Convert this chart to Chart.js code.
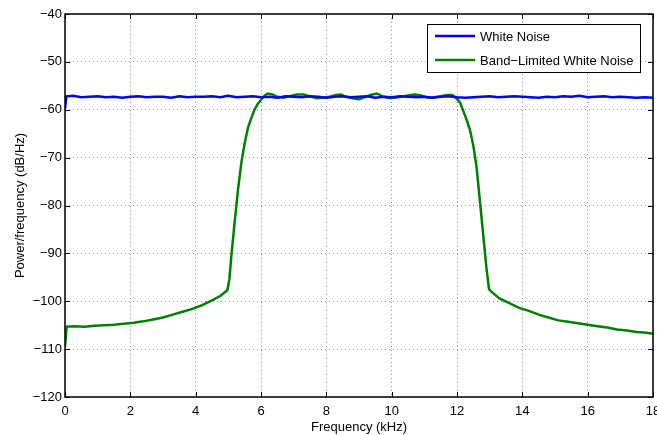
<!DOCTYPE html>
<html>
<head>
<meta charset="utf-8">
<script src="https://cdn.jsdelivr.net/npm/chart.js@4/dist/chart.umd.min.js"></script>
<style>
html,body{margin:0;padding:0;background:#fff;}
#wrap{width:657px;height:435px;position:relative;}
</style>
</head>
<body>
<div id="wrap"><canvas id="c" width="657" height="435"></canvas></div>
<script>
// ---- Data ----
const seriesNames = ["White Noise", "Band\u2212Limited White Noise"];
const xTicks = [0, 2, 4, 6, 8, 10, 12, 14, 16, 18];
const yTicks = [-120, -110, -100, -90, -80, -70, -60, -50, -40];

// White noise
const whiteFreq = [0,0.04,0.25,0.5,0.75,1,1.25,1.5,1.75,2,2.25,2.5,2.75,3,3.25,3.5,3.75,4,4.25,4.5,4.75,5,5.25,5.5,5.75,6,6.25,6.5,6.75,7,7.25,7.5,7.75,8,8.25,8.5,8.75,9,9.25,9.5,9.75,10,10.25,10.5,10.75,11,11.25,11.5,11.75,12,12.25,12.5,12.75,13,13.25,13.5,13.75,14,14.25,14.5,14.75,15,15.25,15.5,15.75,16,16.25,16.5,16.75,17,17.25,17.5,17.75,18];
const whiteVals = [-59.8,-57.2,-57.1,-57.4,-57.3,-57.2,-57.4,-57.3,-57.5,-57.3,-57.2,-57.4,-57.3,-57.3,-57.5,-57.2,-57.4,-57.3,-57.3,-57.2,-57.4,-57.1,-57.4,-57.3,-57.2,-57.4,-57.3,-57.5,-57.2,-57.3,-57.4,-57.2,-57.3,-57.5,-57.3,-57.2,-57.4,-57.3,-57.2,-57.5,-57.3,-57.4,-57.2,-57.3,-57.4,-57.3,-57.5,-57.3,-57.2,-57.4,-57.5,-57.4,-57.3,-57.2,-57.4,-57.3,-57.2,-57.3,-57.4,-57.5,-57.3,-57.4,-57.2,-57.3,-57.1,-57.4,-57.3,-57.2,-57.4,-57.3,-57.4,-57.5,-57.4,-57.5];

// Band-limited white noise
const bandFreq = [0,0.05,0.3,0.6,0.9,1.2,1.5,1.8,2.1,2.4,2.7,3.0,3.3,3.6,3.9,4.2,4.5,4.75,4.97,5.03,5.1,5.2,5.3,5.4,5.5,5.6,5.7,5.8,5.9,6.0,6.1,6.2,6.35,6.5,6.7,6.9,7.1,7.3,7.5,7.7,7.9,8.1,8.3,8.45,8.6,8.8,9.0,9.2,9.35,9.55,9.75,9.95,10.1,10.3,10.5,10.7,10.9,11.1,11.3,11.5,11.7,11.85,12.0,12.1,12.2,12.3,12.4,12.5,12.6,12.7,12.8,12.9,12.98,13.05,13.3,13.6,13.9,14.2,14.5,14.8,15.1,15.4,15.7,16.0,16.3,16.6,16.9,17.2,17.5,17.8,18.0];
const bandVals = [-109.5,-105.3,-105.2,-105.3,-105.1,-105.0,-104.9,-104.7,-104.5,-104.2,-103.8,-103.4,-102.8,-102.2,-101.6,-100.8,-99.8,-98.9,-97.7,-95.5,-90.0,-83.0,-76.5,-71.0,-67.0,-63.8,-61.8,-60.0,-58.8,-57.9,-57.1,-56.6,-56.8,-57.3,-57.5,-57.1,-56.8,-56.8,-57.2,-57.6,-57.5,-57.3,-56.9,-56.8,-57.3,-57.6,-57.8,-57.3,-56.9,-56.6,-57.3,-57.6,-57.5,-57.3,-57.0,-56.8,-57.0,-57.5,-57.4,-57.2,-56.9,-56.9,-57.7,-58.6,-60.4,-62.2,-64.3,-67.5,-72.0,-79.0,-86.0,-93.0,-97.5,-98.0,-99.4,-100.4,-101.4,-102.0,-102.8,-103.4,-104.0,-104.3,-104.6,-104.9,-105.2,-105.5,-105.9,-106.1,-106.4,-106.6,-106.8];

const seriesColors = ["#0000ff", "#008000"];

const toPts = (xs, ys) => xs.map((x, i) => ({x: x, y: ys[i]}));
const minus = v => String(v).replace('-', '\u2212');
const FONT = "'Liberation Sans', Arial, Helvetica, sans-serif";

// Frame, inward tick marks and legend (MATLAB style)
const framePlugin = {
  id: 'frame',
  afterDraw(chart) {
    const {ctx, chartArea: a, scales} = chart;
    const xs = scales.x, ys = scales.y;
    ctx.save();
    ctx.strokeStyle = '#000';
    ctx.lineWidth = 1;
    const tl = 5;
    ctx.beginPath();
    xTicks.forEach(t => {
      const px = Math.round(xs.getPixelForValue(t)) + 0.5;
      ctx.moveTo(px, a.bottom); ctx.lineTo(px, a.bottom - tl);
      ctx.moveTo(px, a.top); ctx.lineTo(px, a.top + tl);
    });
    yTicks.forEach(t => {
      const py = Math.round(ys.getPixelForValue(t)) + 0.5;
      ctx.moveTo(a.left, py); ctx.lineTo(a.left + tl, py);
      ctx.moveTo(a.right, py); ctx.lineTo(a.right - tl, py);
    });
    ctx.stroke();
    ctx.lineWidth = 1.5;
    ctx.strokeRect(a.left, a.top, a.right - a.left, a.bottom - a.top);

    // legend
    const bx = 427, by = 24, bw = 213, bh = 48;
    ctx.fillStyle = '#fff';
    ctx.fillRect(bx, by, bw, bh);
    ctx.lineWidth = 1;
    ctx.strokeStyle = '#000';
    ctx.strokeRect(bx + 0.5, by + 0.5, bw, bh);
    ctx.font = '13px ' + FONT;
    ctx.textBaseline = 'middle';
    ctx.textAlign = 'left';
    chart.data.datasets.forEach((ds, i) => {
      const ry = by + 12 + i * 24;
      ctx.strokeStyle = ds.borderColor;
      ctx.lineWidth = 2.5;
      ctx.beginPath();
      ctx.moveTo(435, ry); ctx.lineTo(475, ry);
      ctx.stroke();
      ctx.fillStyle = '#000';
      ctx.fillText(ds.label, 480, ry + 1);
    });
    ctx.restore();
  }
};

new Chart(document.getElementById('c'), {
  type: 'line',
  data: {
    datasets: [
      {label: seriesNames[0], data: toPts(whiteFreq, whiteVals), borderColor: seriesColors[0], borderWidth: 2.5, pointRadius: 0, tension: 0, fill: false},
      {label: seriesNames[1], data: toPts(bandFreq, bandVals), borderColor: seriesColors[1], borderWidth: 2.5, pointRadius: 0, tension: 0, fill: false}
    ]
  },
  options: {
    responsive: false,
    animation: false,
    devicePixelRatio: 1,
    layout: {padding: {top: 14, right: 4, left: 0, bottom: 0}},
    plugins: {legend: {display: false}, tooltip: {enabled: false}},
    scales: {
      x: {
        type: 'linear', min: 0, max: 18,
        afterBuildTicks: s => { s.ticks = xTicks.map(v => ({value: v})); },
        afterFit: s => { s.height = 38; s.paddingLeft = 0; s.paddingRight = 0; },
        ticks: {color: '#000', padding: 7, maxRotation: 0, autoSkip: false, font: {family: FONT, size: 13}, callback: v => minus(v)},
        grid: {color: '#8c8c8c', lineWidth: 1, drawTicks: false},
        border: {display: false, dash: [1, 3]},
        title: {display: true, text: 'Frequency (kHz)', color: '#000', font: {family: FONT, size: 13}, padding: {top: 0, bottom: 0}}
      },
      y: {
        type: 'linear', min: -120, max: -40,
        afterBuildTicks: s => { s.ticks = yTicks.map(v => ({value: v})); },
        afterFit: s => { s.width = 65; s.paddingTop = 0; s.paddingBottom = 0; },
        ticks: {color: '#000', padding: 3, autoSkip: false, font: {family: FONT, size: 13}, callback: v => minus(v)},
        grid: {color: '#8c8c8c', lineWidth: 1, drawTicks: false},
        border: {display: false, dash: [1, 3]},
        title: {display: true, text: 'Power/frequency (dB/Hz)', color: '#000', font: {family: FONT, size: 13}, padding: {top: 13, bottom: 0}}
      }
    }
  },
  plugins: [framePlugin]
});
</script>
</body>
</html>
